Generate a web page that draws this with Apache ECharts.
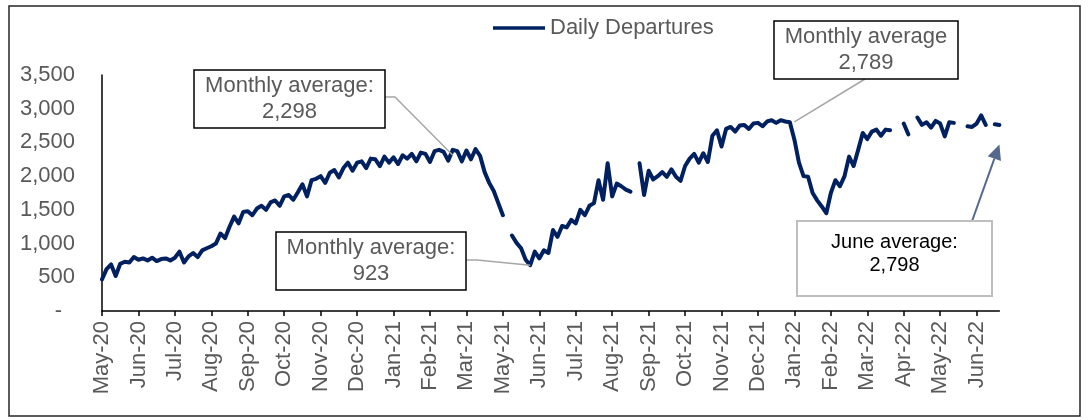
<!DOCTYPE html>
<html>
<head>
<meta charset="utf-8">
<title>Daily Departures</title>
<script src="https://cdn.jsdelivr.net/npm/echarts@6/dist/echarts.min.js"></script>
<style>
    html, body { margin: 0; padding: 0; background: #fff; }
    #chart { width: 1088px; height: 420px; }
</style>
</head>
<body>
<div id="chart"></div>
<script>
// x axis labels, one tick every 8 samples (a sample is ~4 days)
const tickLabels = [
    'May-20', 'Jun-20', 'Jul-20', 'Aug-20', 'Sep-20', 'Oct-20', 'Nov-20', 'Dec-20',
    'Jan-21', 'Feb-21', 'Mar-21', 'May-21', 'Jun-21', 'Jul-21', 'Aug-21', 'Sep-21',
    'Oct-21', 'Nov-21', 'Dec-21', 'Jan-22', 'Feb-22', 'Mar-22', 'Apr-22', 'May-22', 'Jun-22'
];
const samplesPerTick = 8;

// daily departures (null = missing days)
const departures = [
    470, 620, 690, 520, 700, 730, 720, 800, 760, 780,
    750, 790, 740, 770, 780, 750, 790, 880, 720, 810,
    860, 800, 900, 930, 960, 1000, 1150, 1080, 1250, 1400,
    1300, 1470, 1480, 1420, 1520, 1560, 1500, 1610, 1640, 1560,
    1700, 1720, 1650, 1760, 1880, 1700, 1940, 1960, 2000, 1900,
    2050, 2090, 1980, 2120, 2200, 2080, 2200, 2220, 2120, 2260,
    2250, 2150, 2290, 2200, 2280, 2180, 2310, 2260, 2330, 2220,
    2350, 2330, 2210, 2370, 2390, 2360, 2230, 2390, 2370, 2220,
    2380, 2250, 2400, 2300, 2060, 1900, 1780, 1600, 1420, null,
    1120, 1010, 930, 760, 680, 880, 780, 900, 860, 1200,
    1100, 1260, 1240, 1350, 1300, 1500, 1420, 1560, 1600, 1940,
    1650, 2190, 1700, 1890, 1850, 1800, 1770, null, 2190, 1720,
    2080, 1950, 2000, 2060, 1990, 2100, 1990, 1930, 2150, 2260,
    2330, 2200, 2340, 2210, 2600, 2680, 2440, 2700, 2730, 2660,
    2750, 2760, 2700, 2780, 2790, 2740, 2810, 2830, 2790, 2830,
    2810, 2800, 2540, 2200, 2000, 1990, 1750, 1640, 1550, 1450,
    1750, 1940, 1850, 2000, 2290, 2150, 2390, 2640, 2550, 2660,
    2690, 2600, 2690, 2680, null, null, 2780, 2620, null, 2870,
    2760, 2800, 2720, 2820, 2780, 2590, 2800, 2790, null, null,
    2740, 2730, 2780, 2900, 2760, null, 2770, 2760
];

// call-outs: box in pixels, target as [sample index, value]
const notes = [
    { text: 'Monthly average:\n2,298', box: [194, 70, 191, 58], elbow: [[385, 97], [395, 97]], target: [77, 2310] },
    { text: 'Monthly average:\n923', box: [276, 232, 190, 58], elbow: [[466, 260], [477, 260]], target: [94.3, 680] },
    { text: 'Monthly average\n2,789', box: [774, 21, 184, 58], elbow: [[865, 79]], target: [151.7, 2805] }
];
const juneNote = { text: 'June average:\n2,798', box: [797, 221, 195, 75], from: [971, 224], target: [196.7, 2470] };

const font = '"Liberation Sans", Arial, sans-serif';
const navy = '#002060';
const grey = '#595959';

const chart = echarts.init(document.getElementById('chart'));

chart.setOption({
    animation: false,
    grid: { left: 102, right: 88.6, top: 75, bottom: 109 },
    legend: {
        left: 488,
        top: 12,
        itemWidth: 52,
        itemHeight: 3.5,
        itemGap: 10,
        icon: 'rect',
        textStyle: { color: grey, fontSize: 22, fontFamily: font },
        data: ['Daily Departures']
    },
    xAxis: {
        type: 'category',
        boundaryGap: false,
        data: departures.map((_, i) => String(i)),
        axisLine: { lineStyle: { color: '#000', width: 1.5 } },
        axisTick: { interval: samplesPerTick - 1, length: 5, lineStyle: { color: '#000', width: 1.5 } },
        axisLabel: {
            interval: samplesPerTick - 1,
            rotate: 90,
            margin: 10,
            color: grey,
            fontSize: 22,
            fontFamily: font,
            formatter: (v, idx) => (idx % samplesPerTick === 0 ? tickLabels[idx / samplesPerTick] || '' : '')
        },
        splitLine: { show: false }
    },
    yAxis: {
        type: 'value',
        min: 0,
        max: 3500,
        interval: 500,
        axisLine: { show: true, lineStyle: { color: '#000', width: 1.5 } },
        axisTick: { show: false },
        splitLine: { show: false },
        axisLabel: {
            margin: 27,
            color: grey,
            fontSize: 22,
            fontFamily: font,
            formatter: (v) => (v === 0 ? '{dash|-}' : v.toLocaleString('en-US')),
            rich: { dash: { color: grey, fontSize: 22, fontFamily: font, padding: [0, 13, 0, 0] } }
        }
    },
    series: [
        {
            name: 'Daily Departures',
            type: 'line',
            data: departures,
            showSymbol: false,
            connectNulls: false,
            itemStyle: { color: navy },
            lineStyle: { color: navy, width: 4, join: 'round', cap: 'round' }
        }
    ]
});

// call-out boxes and leader lines
const toPx = (t) => chart.convertToPixel({ gridIndex: 0 }, t);
const graphics = [
    {
        type: 'rect',
        shape: { x: 9, y: 6, width: 1071, height: 410 },
        style: { fill: 'none', stroke: '#262626', lineWidth: 1.5 },
        z: 100
    }
];

notes.forEach((n) => {
    const [x, y, w, h] = n.box;
    graphics.push({
        type: 'polyline',
        shape: { points: n.elbow.concat([toPx(n.target)]) },
        style: { stroke: '#a6a6a6', lineWidth: 1.5, fill: 'none' },
        z: 100
    });
    graphics.push({
        type: 'rect',
        shape: { x: x, y: y, width: w, height: h },
        style: { fill: '#fff', stroke: '#000', lineWidth: 1.5 },
        z: 101
    });
    graphics.push({
        type: 'text',
        x: x + w / 2,
        y: y + h / 2,
        style: {
            text: n.text,
            align: 'center',
            verticalAlign: 'middle',
            fontSize: 22,
            fontFamily: font,
            lineHeight: 26,
            fill: grey
        },
        z: 102
    });
});

// June call-out with arrow
(function () {
    const [x, y, w, h] = juneNote.box;
    const tip = toPx(juneNote.target);
    const from = juneNote.from;
    const dx = tip[0] - from[0];
    const dy = tip[1] - from[1];
    const len = Math.sqrt(dx * dx + dy * dy);
    const ux = dx / len;
    const uy = dy / len;
    const headLen = 15;
    const headW = 7;
    const base = [tip[0] - ux * headLen, tip[1] - uy * headLen];
    graphics.push({
        type: 'line',
        shape: { x1: from[0], y1: from[1], x2: base[0], y2: base[1] },
        style: { stroke: '#55698f', lineWidth: 2 },
        z: 100
    });
    graphics.push({
        type: 'polygon',
        shape: {
            points: [
                tip,
                [base[0] - uy * headW, base[1] + ux * headW],
                [base[0] + uy * headW, base[1] - ux * headW]
            ]
        },
        style: { fill: '#55698f' },
        z: 100
    });
    graphics.push({
        type: 'rect',
        shape: { x: x, y: y, width: w, height: h },
        style: { fill: '#fff', stroke: '#bfbfbf', lineWidth: 2 },
        z: 101
    });
    graphics.push({
        type: 'text',
        x: x + w / 2,
        y: y + 33,
        style: {
            text: juneNote.text,
            align: 'center',
            verticalAlign: 'middle',
            fontSize: 20,
            fontFamily: font,
            lineHeight: 23,
            fill: '#000'
        },
        z: 102
    });
})();

chart.setOption({ graphic: graphics });

window.addEventListener('resize', () => chart.resize());
</script>
</body>
</html>
